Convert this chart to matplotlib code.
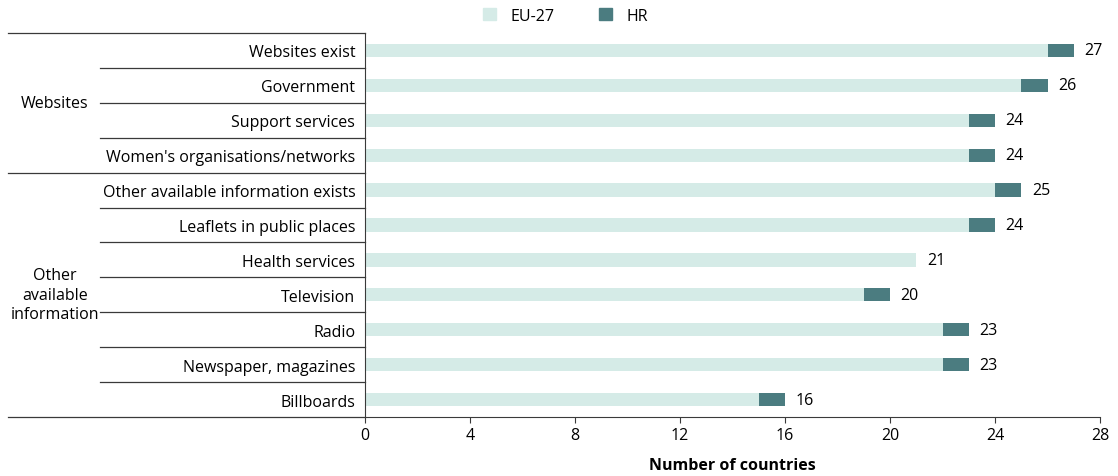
import matplotlib.pyplot as plt
from matplotlib.patches import Patch

categories = ["Websites exist", "Government", "Support services",
              "Women's organisations/networks", "Other available information exists",
              "Leaflets in public places", "Health services", "Television",
              "Radio", "Newspaper, magazines", "Billboards"]
eu27 = [26, 25, 23, 23, 24, 23, 21, 19, 22, 22, 15]
hr = [1, 1, 1, 1, 1, 1, 0, 1, 1, 1, 1]
groups = [("Websites", 0, 3), ("Other\navailable\ninformation", 4, 10)]

c_eu = "#d5ebe7"
c_hr = "#4b7c80"
line_c = "#3a3a3a"

plt.rcParams['font.family'] = ['Open Sans', 'DejaVu Sans']
plt.rcParams['font.size'] = 11.5

fig = plt.figure(figsize=(11.18, 4.77), dpi=100)
ax = fig.add_axes([0.3265, 0.1237, 0.6574, 0.805])

y = list(range(len(categories)))
ax.barh(y, eu27, height=0.38, color=c_eu, label="EU-27")
ax.barh(y, hr, left=eu27, height=0.38, color=c_hr, label="HR")
for i in y:
    total = eu27[i] + hr[i]
    ax.text(total + 0.4, i, str(total), va="center", ha="left")

ax.set_ylim(len(categories) - 0.5, -0.5)
ax.set_xlim(0, 28)
ax.set_xticks(range(0, 29, 4))
ax.set_yticks(y)
ax.set_yticklabels(categories)
ax.tick_params(axis="y", length=0, pad=7)
ax.tick_params(axis="x", direction="out", length=4, color=line_c)
for s in ["top", "right"]:
    ax.spines[s].set_visible(False)
ax.spines["left"].set_color(line_c)
ax.spines["bottom"].set_color(line_c)
ax.set_xlabel("Number of countries", fontweight="bold", labelpad=10)

tr = ax.get_yaxis_transform()
# long lines at group borders, short lines between rows
for yy in [-0.5, 3.5, 10.5]:
    ax.plot([-0.486, 0], [yy, yy], transform=tr, color=line_c, lw=0.9, clip_on=False)
for yy in [0.5, 1.5, 2.5, 4.5, 5.5, 6.5, 7.5, 8.5, 9.5]:
    ax.plot([-0.361, 0], [yy, yy], transform=tr, color=line_c, lw=0.9, clip_on=False)
for name, a, b in groups:
    ax.text(-0.422, (a + b) / 2, name, transform=tr, ha="center", va="center",
            linespacing=1.3)

handles = [Patch(color=c_eu), Patch(color=c_hr)]
fig.legend(handles, ["EU-27", "HR"], loc="center", bbox_to_anchor=(0.506, 0.965),
           ncol=2, frameon=False, handlelength=0.8, handleheight=0.8,
           columnspacing=2.8, handletextpad=0.9)

fig.savefig("out.png", dpi=100)
